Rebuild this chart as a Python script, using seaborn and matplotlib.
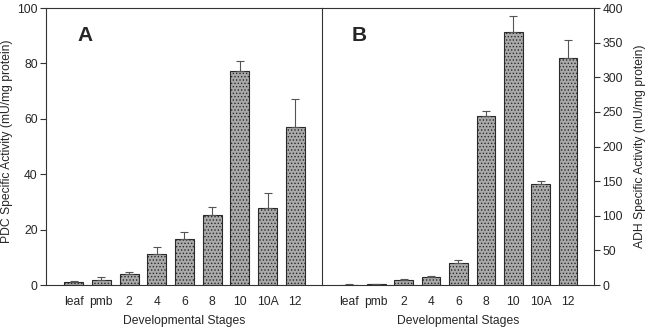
import seaborn as sns
import matplotlib.pyplot as plt
import numpy as np
import pandas as pd

sns.set_style('white')
plt.rcParams['font.family'] = ['Liberation Sans', 'DejaVu Sans']
plt.rcParams['hatch.color'] = '#666666'
plt.rcParams['hatch.linewidth'] = 0.6

stages = ["leaf", "pmb", "2", "4", "6", "8", "10", "10A", "12"]
pdc_mean = [1.0, 1.9, 3.9, 11.1, 16.5, 25.1, 77.3, 27.7, 57.2]
pdc_err = [0.3, 0.9, 0.9, 2.8, 2.5, 2.9, 3.4, 5.7, 10.1]
adh_mean = [0.5, 1.5, 6.7, 11.0, 32.3, 243.9, 364.8, 145.5, 327.7]
adh_err = [0.3, 0.5, 1.5, 1.5, 3.4, 7.1, 24.2, 4.5, 26.0]

bar_face = '#aaaaaa'
edge = '#2a2a2a'
fs = 8.7

fig = plt.figure(figsize=(6.51, 3.28), dpi=100)
ax_a = fig.add_axes([0.0707, 0.131, 0.4232, 0.8446])
ax_b = fig.add_axes([0.4939, 0.131, 0.4185, 0.8446])


def draw_panel(ax, means, errs, ymax, letter):
    df = pd.DataFrame({"stage": stages, "value": means})
    sns.barplot(data=df, x="stage", y="value", ax=ax, color=bar_face,
                saturation=1, width=0.68, errorbar=None,
                edgecolor=edge, linewidth=0.8)
    for p in ax.patches:
        p.set_hatch('.....')
    pos = np.arange(len(stages))
    ax.errorbar(pos, means, yerr=[np.zeros(len(errs)), errs], fmt='none',
                ecolor='#555555', elinewidth=0.8, capsize=3, capthick=0.8)
    ax.set_ylim(0, ymax)
    ax.set_xlim(-1, 8.95)
    ax.set_xlabel("Developmental Stages", fontsize=fs, labelpad=5)
    ax.set_ylabel("")
    ax.tick_params(axis='x', length=0, labelsize=fs, pad=8)
    ax.text(0.14, 0.9, letter, transform=ax.transAxes, fontsize=15,
            fontweight='bold', ha='center', va='center')
    for s in ax.spines.values():
        s.set_color('#333333')
        s.set_linewidth(0.8)


draw_panel(ax_a, pdc_mean, pdc_err, 100, "A")
draw_panel(ax_b, adh_mean, adh_err, 400, "B")

ax_a.set_yticks([0, 20, 40, 60, 80, 100])
ax_a.tick_params(axis='y', left=True, length=4, width=0.8, labelsize=fs,
                 color='#333333', pad=2)
ax_a.spines['right'].set_visible(False)
fig.text(0.002, 0.57, "PDC Specific Activity (mU/mg protein)", fontsize=fs,
         rotation=90, ha='left', va='center')

ax_b.set_yticks(range(0, 401, 50))
ax_b.yaxis.tick_right()
ax_b.yaxis.set_label_position('right')
ax_b.tick_params(axis='y', right=True, left=False, length=4, width=0.8,
                 labelsize=fs, color='#333333', pad=2)
ax_b.set_ylabel("ADH Specific Activity (mU/mg protein)", fontsize=fs,
                labelpad=8)

fig.savefig("out.png", dpi=100)
